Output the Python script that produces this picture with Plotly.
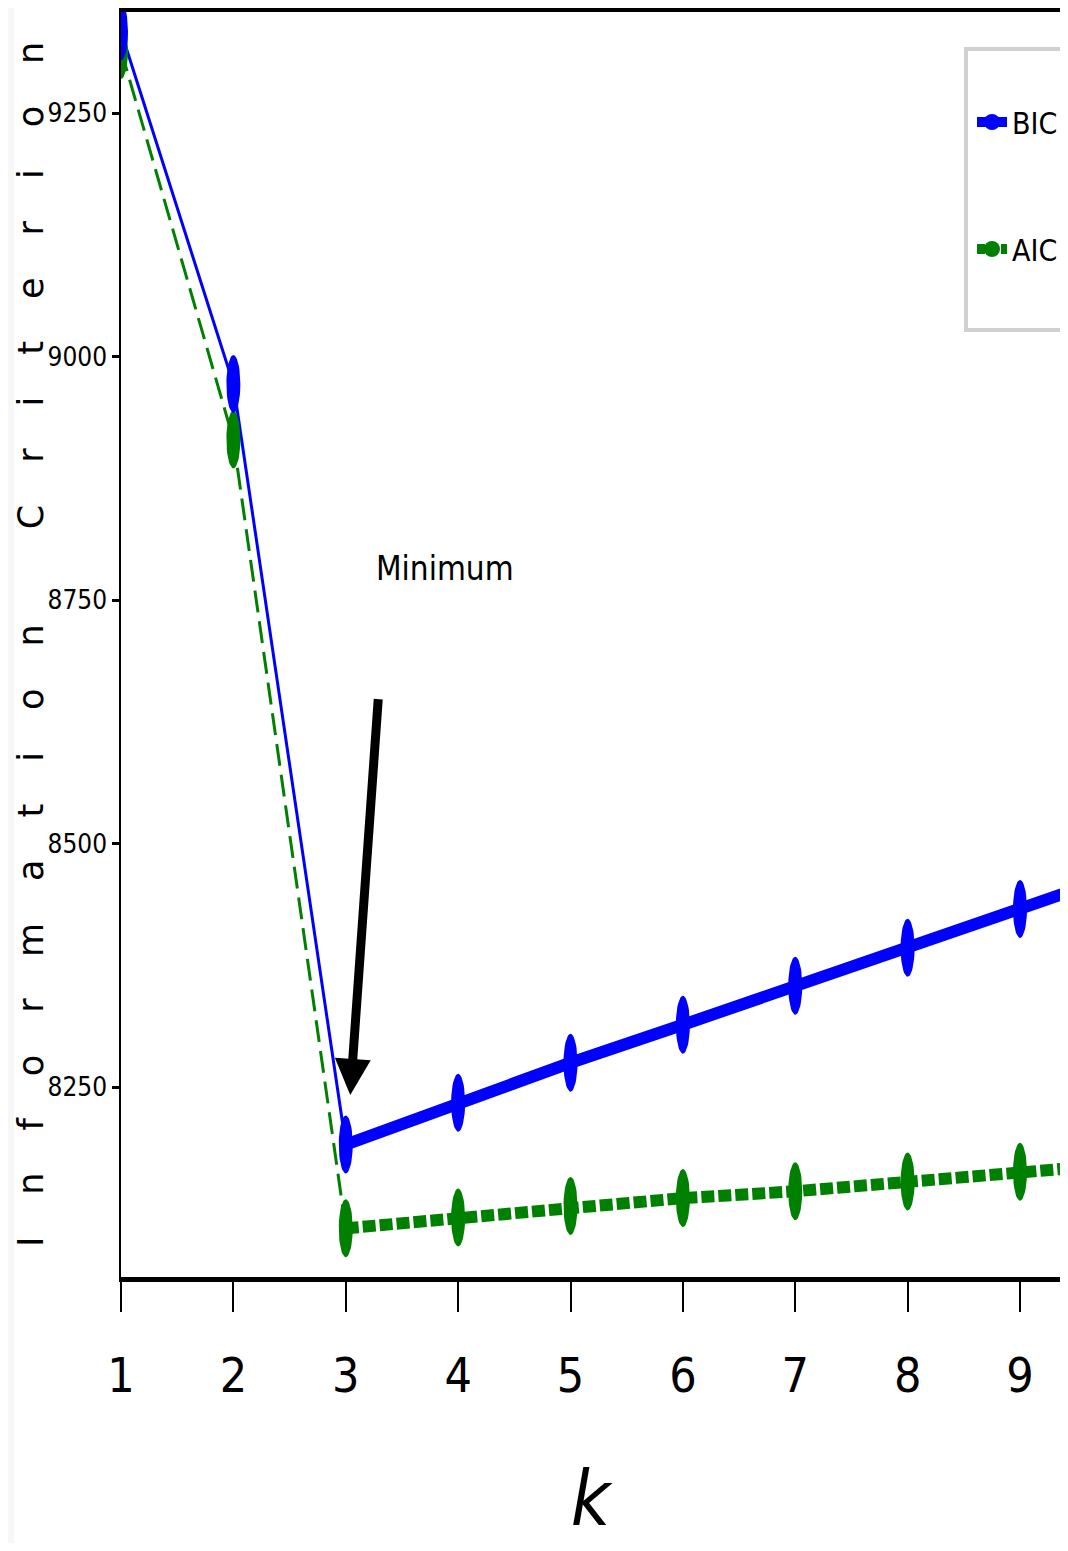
import numpy as np
import plotly.graph_objects as go

# ---------------- data ----------------
k = [1, 2, 3, 4, 5, 6, 7, 8, 9, 10]
bic = [9334, 8972, 8191, 8234, 8275, 8314, 8354, 8393, 8433, 8473]
aic = [9315, 8915, 8105, 8116, 8128, 8136, 8143, 8153, 8163, 8172]
x_tick_vals = [1, 2, 3, 4, 5, 6, 7, 8, 9]
y_tick_vals = [8250, 8500, 8750, 9000, 9250]
min_tip = (3.04, 8242)
min_tail = (3.29, 8650)
min_label = (3.88, 8783)
y_title = "Information Criterion"
x_title = "k"

# ---------------- layout constants ----------------
# the page body adds an 8px margin, so the figure is sized to fit inside it
W, H = 1052, 1535
ML, MR, MT, MB = 113, 0, 4, 266
PW, PH = W - ML - MR, H - MT - MB
XR = [1, 1 + PW / 112.375]
YR = [8055, 9354]

COND = "DejaVu Sans Condensed, Liberation Sans Narrow, DejaVu Sans"
BLUE, GREEN = "#0000ff", "#008000"

# ellipse marker size in pixels (semi axes)
EA_PX, EB_PX = 7, 29
ea = EA_PX * (XR[1] - XR[0]) / PW
eb = EB_PX * (YR[1] - YR[0]) / PH


def ellipses(xs, ys):
    t = np.linspace(0, 2 * np.pi, 49)
    ex, ey = [], []
    for x0, y0 in zip(xs, ys):
        ex += list(x0 + ea * np.cos(t)) + [None]
        ey += list(y0 + eb * np.sin(t)) + [None]
    return ex, ey


def px_x(p):  # page pixel -> paper x
    return (p - 8 - ML) / PW


def px_y(p):  # page pixel -> paper y
    return 1 - (p - 8 - MT) / PH


fig = go.Figure()

# thin segments k = 1..3
fig.add_trace(go.Scatter(x=k[:3], y=aic[:3], mode="lines", showlegend=False,
                         line=dict(color=GREEN, width=3, dash="22px,9px"), hoverinfo="skip"))
fig.add_trace(go.Scatter(x=k[:3], y=bic[:3], mode="lines", showlegend=False,
                         line=dict(color=BLUE, width=3), hoverinfo="skip"))
# thick segments k = 3..
fig.add_trace(go.Scatter(x=k[2:], y=aic[2:], mode="lines", showlegend=False,
                         line=dict(color=GREEN, width=12, dash="13px,4px"), hoverinfo="skip"))
fig.add_trace(go.Scatter(x=k[2:], y=bic[2:], mode="lines", showlegend=False,
                         line=dict(color=BLUE, width=12), hoverinfo="skip"))
# ellipse markers
ax_, ay_ = ellipses(k, aic)
fig.add_trace(go.Scatter(x=ax_, y=ay_, mode="lines", fill="toself", fillcolor=GREEN,
                         line=dict(color=GREEN, width=0), showlegend=False, hoverinfo="skip"))
bx_, by_ = ellipses(k, bic)
fig.add_trace(go.Scatter(x=bx_, y=by_, mode="lines", fill="toself", fillcolor=BLUE,
                         line=dict(color=BLUE, width=0), showlegend=False, hoverinfo="skip"))

# legend entries
fig.add_trace(go.Scatter(x=[None], y=[None], name="BIC", mode="lines+markers", legendgroup="bic",
                         line=dict(color=BLUE, width=12),
                         marker=dict(symbol="circle", size=16, color=BLUE)))
fig.add_trace(go.Scatter(x=[None], y=[None], name="AIC", mode="lines+markers", legendgroup="aic",
                         line=dict(color=GREEN, width=12, dash="8px,4px"),
                         marker=dict(symbol="circle", size=16, color=GREEN)))

fig.add_annotation(x=min_tip[0], y=min_tip[1], ax=min_tail[0], ay=min_tail[1],
                   xref="x", yref="y", axref="x", ayref="y", text="", showarrow=True,
                   arrowhead=2, arrowsize=0.8, arrowwidth=9, arrowcolor="black", standoff=0)
fig.add_annotation(x=min_label[0], y=min_label[1], xref="x", yref="y", text="Minimum",
                   showarrow=False, font=dict(family=COND, size=33, color="black"))

# y axis title (rotated, widely spaced letters; no spacing after the last letter)
fig.add_annotation(x=px_x(31), y=px_y(645), xref="paper", yref="paper",
                   xanchor="center", yanchor="middle", textangle=-90, showarrow=False,
                   text='<span style="letter-spacing:42px">' + y_title[:-1] + '</span>' + y_title[-1],
                   font=dict(family="DejaVu Sans", size=35, color="black"))

# light strip on the left border of the picture
fig.add_shape(type="rect", xref="paper", yref="paper", layer="below",
              x0=px_x(0), x1=px_x(14), y0=px_y(1560), y1=px_y(0),
              fillcolor="#f7f7f7", line=dict(width=0))
# legend frame
fig.add_shape(type="rect", xref="paper", yref="paper", layer="above",
              x0=px_x(966), x1=px_x(1090), y0=px_y(330), y1=px_y(49),
              fillcolor="white", line=dict(color="#d0d0d0", width=4))

fig.update_layout(
    width=W, height=H,
    margin=dict(l=ML, r=MR, t=MT, b=MB, autoexpand=False),
    paper_bgcolor="white", plot_bgcolor="white",
    legend=dict(x=px_x(972), y=px_y(96), xanchor="left", yanchor="top",
                bgcolor="rgba(0,0,0,0)", borderwidth=0,
                font=dict(family=COND, size=30, color="black"),
                tracegroupgap=85, traceorder="grouped"),
    xaxis=dict(range=XR, tickvals=x_tick_vals, showgrid=False, zeroline=False,
               showline=True, linecolor="black", linewidth=5, mirror=True,
               ticks="outside", ticklen=30, tickwidth=1.5, tickcolor="black",
               ticklabelstandoff=22,
               tickfont=dict(family=COND, size=48, color="black"),
               title=dict(text=x_title, standoff=78,
                          font=dict(family=COND, size=76, color="black", style="italic"))),
    yaxis=dict(range=YR, tickvals=y_tick_vals, showgrid=False, zeroline=False,
               showline=True, linecolor="black", linewidth=1.5,
               ticks="outside", ticklen=7, tickwidth=3, tickcolor="black",
               tickfont=dict(family=COND, size=26, color="black")),
)

fig.write_html("out.html")
